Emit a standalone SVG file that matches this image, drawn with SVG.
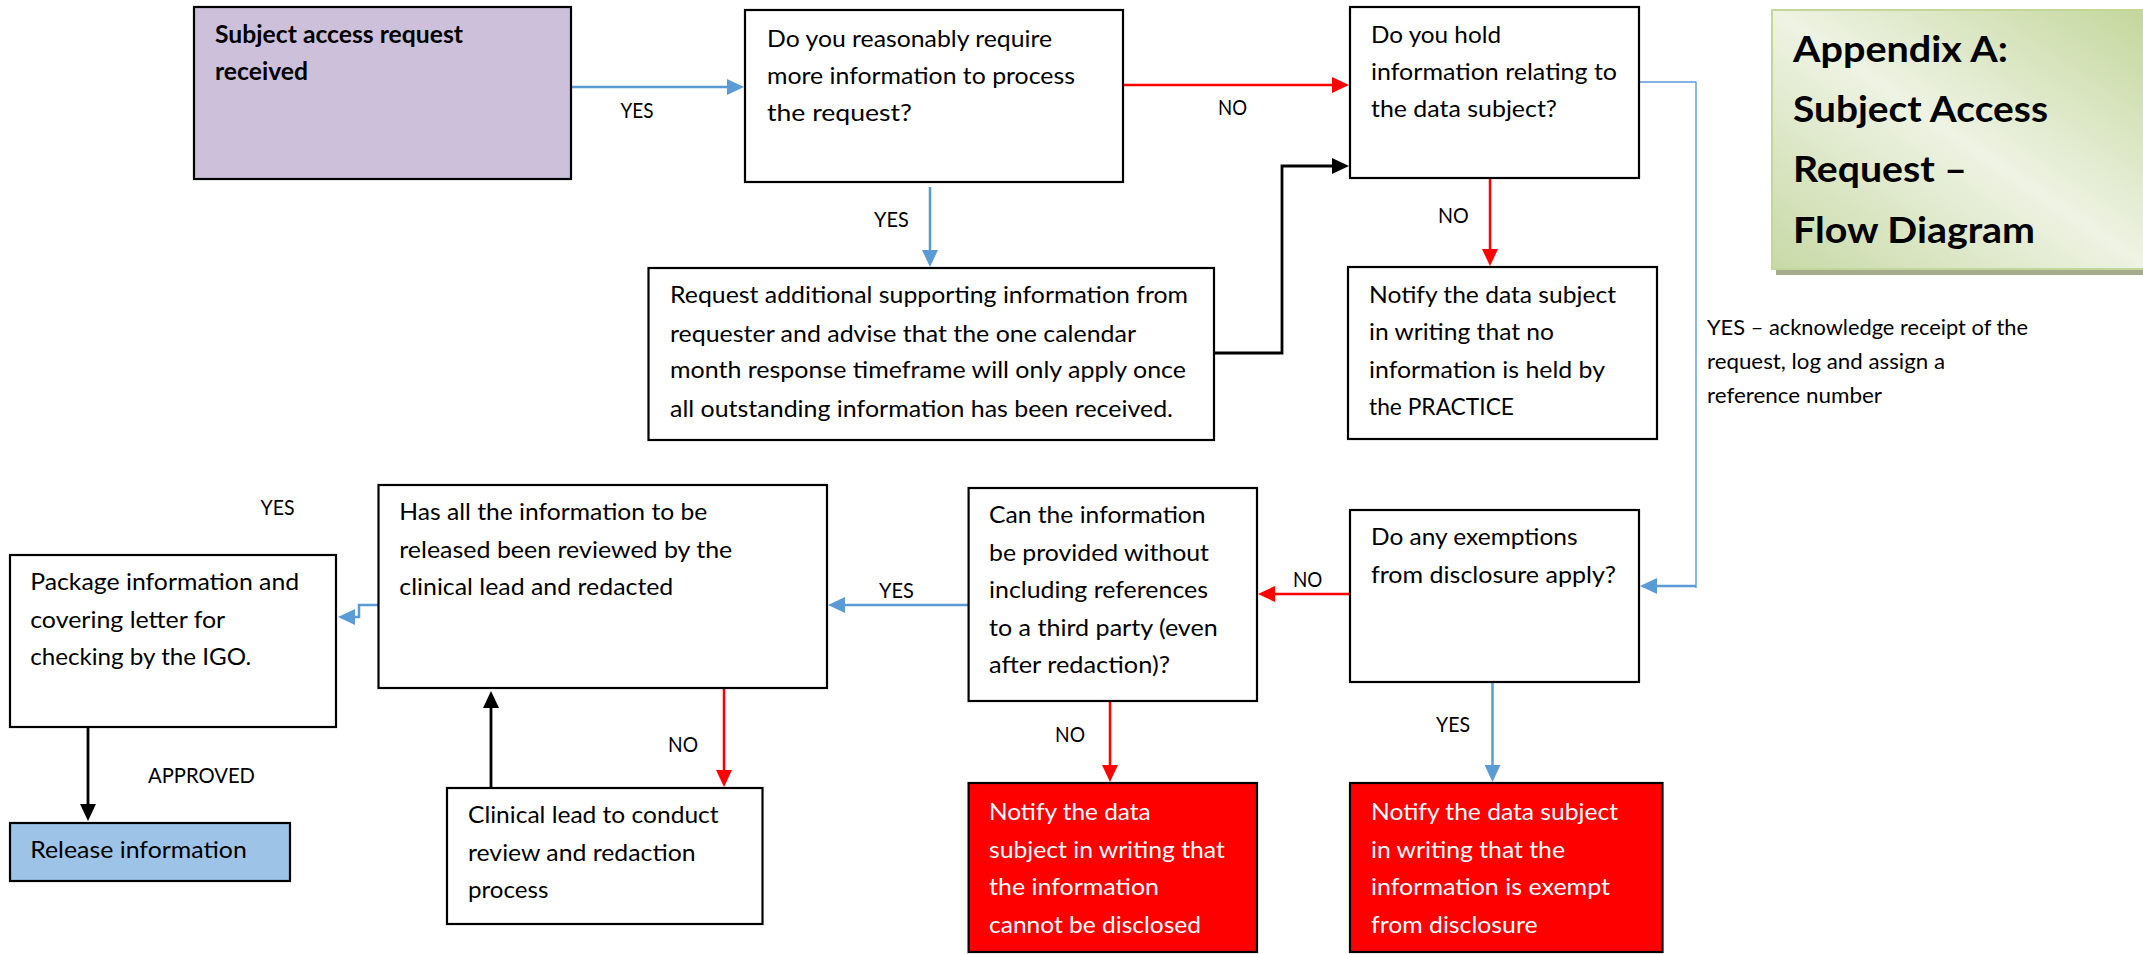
<svg xmlns="http://www.w3.org/2000/svg" width="2143" height="954" viewBox="0 0 2143 954">
<defs>
<style>
.box{stroke:#000;stroke-width:2.2;fill:#fff}
.t{font-family:Lato,'Liberation Sans',sans-serif;font-size:24px;fill:#000}
.tb{font-family:Lato,'Liberation Sans',sans-serif;font-size:24px;font-weight:bold;fill:#000}
.tw{font-family:Lato,'Liberation Sans',sans-serif;font-size:24px;fill:#fff}
.lbl{font-family:Lato,'Liberation Sans',sans-serif;font-size:21px;fill:#000}
.title{font-family:Lato,'Liberation Sans',sans-serif;font-size:37px;font-weight:bold;fill:#000}
.blue{stroke:#5B9BD5;stroke-width:2.5;fill:none}
.bluethin{stroke:#5B9BD5;stroke-width:1.4;fill:none}
.red{stroke:#FF0000;stroke-width:2.5;fill:none}
.black{stroke:#000;stroke-width:2.8;fill:none}
</style>
<marker id="ab" markerUnits="userSpaceOnUse" markerWidth="17" markerHeight="16" refX="1" refY="8" orient="auto"><path d="M0,0 L17,8 L0,16 z" fill="#5B9BD5"/></marker>
<marker id="ar" markerUnits="userSpaceOnUse" markerWidth="17" markerHeight="16" refX="1" refY="8" orient="auto"><path d="M0,0 L17,8 L0,16 z" fill="#FF0000"/></marker>
<marker id="ak" markerUnits="userSpaceOnUse" markerWidth="17" markerHeight="16" refX="1" refY="8" orient="auto"><path d="M0,0 L17,8 L0,16 z" fill="#000"/></marker>
<linearGradient id="gt" x1="1" y1="0" x2="0" y2="1">
<stop offset="0" stop-color="#C3D69B"/>
<stop offset="0.5" stop-color="#EEF3E3"/>
<stop offset="1" stop-color="#C8D9A6"/>
</linearGradient>
</defs>
<rect width="2143" height="954" fill="#fff"/>

<g id="connectors">
<path class="blue" d="M571,87 H728" marker-end="url(#ab)"/>
<path class="red" d="M1122,85 H1333" marker-end="url(#ar)"/>
<path class="blue" d="M930,187 V251" marker-end="url(#ab)"/>
<path class="black" d="M1214,353 H1282 V166 H1333" marker-end="url(#ak)"/>
<path class="red" d="M1490,178 V250" marker-end="url(#ar)"/>
<path class="bluethin" d="M1639,82 H1696 V588"/>
<path class="blue" d="M1696,586 H1656" marker-end="url(#ab)"/>
<path class="red" d="M1350,594 H1274" marker-end="url(#ar)"/>
<path class="blue" d="M1492.5,672 V766" marker-end="url(#ab)"/>
<path class="red" d="M1110,701 V766" marker-end="url(#ar)"/>
<path class="blue" d="M968,605 H844" marker-end="url(#ab)"/>
<path class="blue" d="M378,605 H359 V617 H354" marker-end="url(#ab)"/>
<path class="red" d="M724,688 V771" marker-end="url(#ar)"/>
<path class="black" d="M491,788 V707" marker-end="url(#ak)"/>
<path class="black" d="M88,727 V805" marker-end="url(#ak)"/>
<text class="lbl" x="620.5" y="118" textLength="33" lengthAdjust="spacingAndGlyphs">YES</text>
<text class="lbl" x="1218" y="115" textLength="29" lengthAdjust="spacingAndGlyphs">NO</text>
<text class="lbl" x="874" y="227" textLength="34.7" lengthAdjust="spacingAndGlyphs">YES</text>
<text class="lbl" x="1438" y="223" textLength="30.7" lengthAdjust="spacingAndGlyphs">NO</text>
<text class="lbl" x="260.6" y="515" textLength="34" lengthAdjust="spacingAndGlyphs">YES</text>
<text class="lbl" x="1293" y="587" textLength="29.4" lengthAdjust="spacingAndGlyphs">NO</text>
<text class="lbl" x="879" y="598" textLength="34.8" lengthAdjust="spacingAndGlyphs">YES</text>
<text class="lbl" x="1055" y="742" textLength="30" lengthAdjust="spacingAndGlyphs">NO</text>
<text class="lbl" x="1436" y="732" textLength="34" lengthAdjust="spacingAndGlyphs">YES</text>
<text class="lbl" x="148" y="783" textLength="107" lengthAdjust="spacingAndGlyphs">APPROVED</text>
<text class="lbl" x="668" y="752" textLength="30" lengthAdjust="spacingAndGlyphs">NO</text>
<g id="yes-ack">
<text class="lbl" x="1707" y="335" textLength="321" lengthAdjust="spacingAndGlyphs">YES – acknowledge receipt of the</text>
<text class="lbl" x="1707" y="369.3" textLength="238" lengthAdjust="spacingAndGlyphs">request, log and assign a</text>
<text class="lbl" x="1707" y="403.3" textLength="175" lengthAdjust="spacingAndGlyphs">reference number</text>
</g>
</g>

<g id="title">
<rect x="1776" y="15" width="380" height="260" fill="#A4AC8C"/>
<rect x="1772" y="10" width="380" height="259" fill="url(#gt)" stroke="#C3D69B" stroke-width="2"/>
<text class="title" x="1793" y="62" textLength="215" lengthAdjust="spacingAndGlyphs">Appendix A:</text>
<text class="title" x="1793" y="122" textLength="255" lengthAdjust="spacingAndGlyphs">Subject Access</text>
<text class="title" x="1793" y="182" textLength="174" lengthAdjust="spacingAndGlyphs">Request –</text>
<text class="title" x="1793" y="243" textLength="242" lengthAdjust="spacingAndGlyphs">Flow Diagram</text>
</g>

<g id="subject">
<rect class="box" x="194" y="7" width="377" height="172" fill="#CCC0DA" style="fill:#CCC0DA"/>
<text class="tb" x="215" y="43.3" textLength="248" lengthAdjust="spacingAndGlyphs">Subject access request</text>
<text class="tb" x="215" y="80" textLength="93" lengthAdjust="spacingAndGlyphs">received</text>
</g>

<g id="reasonably">
<rect class="box" x="745" y="10" width="378" height="172"/>
<text class="t" x="767" y="46.5" textLength="285" lengthAdjust="spacingAndGlyphs">Do you reasonably require</text>
<text class="t" x="767" y="83.5" textLength="308" lengthAdjust="spacingAndGlyphs">more information to process</text>
<text class="t" x="767" y="120.5" textLength="145" lengthAdjust="spacingAndGlyphs">the request?</text>
</g>

<g id="hold">
<rect class="box" x="1350" y="7" width="289" height="171"/>
<text class="t" x="1371" y="42.7" textLength="130" lengthAdjust="spacingAndGlyphs">Do you hold</text>
<text class="t" x="1371" y="80" textLength="246" lengthAdjust="spacingAndGlyphs">information relating to</text>
<text class="t" x="1371" y="117.3" textLength="186" lengthAdjust="spacingAndGlyphs">the data subject?</text>
</g>

<g id="notify-none">
<rect class="box" x="1348" y="267" width="309" height="172"/>
<text class="t" x="1369" y="303" textLength="247" lengthAdjust="spacingAndGlyphs">Notify the data subject</text>
<text class="t" x="1369" y="340" textLength="185" lengthAdjust="spacingAndGlyphs">in writing that no</text>
<text class="t" x="1369" y="378.3" textLength="236" lengthAdjust="spacingAndGlyphs">information is held by</text>
<text class="t" x="1369" y="415" textLength="145" lengthAdjust="spacingAndGlyphs">the PRACTICE</text>
</g>

<g id="request-info">
<rect class="box" x="648.5" y="268" width="565.5" height="172"/>
<text class="t" x="670" y="303" textLength="518" lengthAdjust="spacingAndGlyphs">Request additional supporting information from</text>
<text class="t" x="670" y="341.7" textLength="466" lengthAdjust="spacingAndGlyphs">requester and advise that the one calendar</text>
<text class="t" x="670" y="378.3" textLength="516" lengthAdjust="spacingAndGlyphs">month response timeframe will only apply once</text>
<text class="t" x="670" y="416.7" textLength="503" lengthAdjust="spacingAndGlyphs">all outstanding information has been received.</text>
</g>

<g id="reviewed">
<rect class="box" x="378.5" y="485" width="448.5" height="203"/>
<text class="t" x="399.3" y="520" textLength="308" lengthAdjust="spacingAndGlyphs">Has all the information to be</text>
<text class="t" x="399.3" y="557.7" textLength="333" lengthAdjust="spacingAndGlyphs">released been reviewed by the</text>
<text class="t" x="399.3" y="595" textLength="274" lengthAdjust="spacingAndGlyphs">clinical lead and redacted</text>
</g>

<g id="package">
<rect class="box" x="10" y="555" width="326" height="172"/>
<text class="t" x="30.2" y="590" textLength="269" lengthAdjust="spacingAndGlyphs">Package information and</text>
<text class="t" x="30.2" y="627.7" textLength="195" lengthAdjust="spacingAndGlyphs">covering letter for</text>
<text class="t" x="30.2" y="665" textLength="221" lengthAdjust="spacingAndGlyphs">checking by the IGO.</text>
</g>

<g id="release">
<rect class="box" x="10" y="823" width="280" height="58" style="fill:#9DC3E6"/>
<text class="t" x="30.2" y="858.3" textLength="216.6" lengthAdjust="spacingAndGlyphs">Release information</text>
</g>

<g id="clinical">
<rect class="box" x="447" y="788" width="315.5" height="136"/>
<text class="t" x="468" y="823.3" textLength="250.6" lengthAdjust="spacingAndGlyphs">Clinical lead to conduct</text>
<text class="t" x="468" y="861" textLength="227.6" lengthAdjust="spacingAndGlyphs">review and redaction</text>
<text class="t" x="468" y="898.3" textLength="80.5" lengthAdjust="spacingAndGlyphs">process</text>
</g>

<g id="third-party">
<rect class="box" x="968.6" y="488" width="288.4" height="213"/>
<text class="t" x="989" y="523.3" textLength="216.6" lengthAdjust="spacingAndGlyphs">Can the information</text>
<text class="t" x="989" y="560.7" textLength="220" lengthAdjust="spacingAndGlyphs">be provided without</text>
<text class="t" x="989" y="598.3" textLength="219" lengthAdjust="spacingAndGlyphs">including references</text>
<text class="t" x="989" y="636" textLength="228.7" lengthAdjust="spacingAndGlyphs">to a third party (even</text>
<text class="t" x="989" y="673.3" textLength="181" lengthAdjust="spacingAndGlyphs">after redaction)?</text>
</g>

<g id="exemptions">
<rect class="box" x="1350" y="510" width="289" height="172"/>
<text class="t" x="1371" y="545" textLength="206.5" lengthAdjust="spacingAndGlyphs">Do any exemptions</text>
<text class="t" x="1371" y="583.3" textLength="245" lengthAdjust="spacingAndGlyphs">from disclosure apply?</text>
</g>

<g id="cannot-disclose">
<rect class="box" x="968.6" y="783" width="288.4" height="169" style="fill:#FF0000"/>
<text class="tw" x="989" y="820" textLength="161.7" lengthAdjust="spacingAndGlyphs">Notify the data</text>
<text class="tw" x="989" y="857.7" textLength="235.8" lengthAdjust="spacingAndGlyphs">subject in writing that</text>
<text class="tw" x="989" y="895" textLength="170" lengthAdjust="spacingAndGlyphs">the information</text>
<text class="tw" x="989" y="932.7" textLength="212" lengthAdjust="spacingAndGlyphs">cannot be disclosed</text>
</g>

<g id="exempt">
<rect class="box" x="1350" y="783" width="312.5" height="169" style="fill:#FF0000"/>
<text class="tw" x="1371" y="820" textLength="247" lengthAdjust="spacingAndGlyphs">Notify the data subject</text>
<text class="tw" x="1371" y="857.7" textLength="194" lengthAdjust="spacingAndGlyphs">in writing that the</text>
<text class="tw" x="1371" y="895" textLength="239" lengthAdjust="spacingAndGlyphs">information is exempt</text>
<text class="tw" x="1371" y="932.7" textLength="166.5" lengthAdjust="spacingAndGlyphs">from disclosure</text>
</g>
</svg>
